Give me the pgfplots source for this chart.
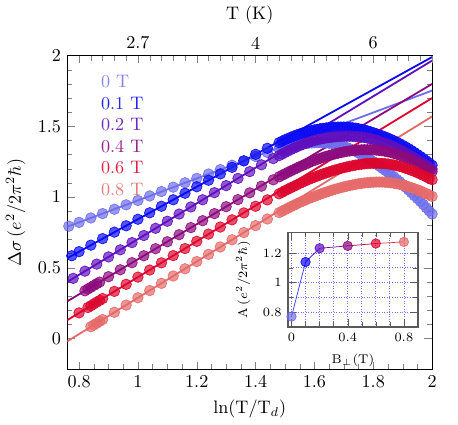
\documentclass[border=0pt]{standalone}
\usepackage{pgfplots}
\pgfplotsset{compat=1.18}
\definecolor{c0}{RGB}{110,110,235}
\definecolor{c1}{RGB}{10,10,245}
\definecolor{c2}{RGB}{95,15,190}
\definecolor{c4}{RGB}{140,10,125}
\definecolor{c6}{RGB}{220,5,45}
\definecolor{c8}{RGB}{230,105,105}
\pgfplotsset{
  bead/.style={only marks, mark=*, mark size=2.9pt,
    mark options={fill=#1, fill opacity=0.7, draw=#1, draw opacity=0.9, line width=0.4pt}},
  fit/.style={no marks, #1, line width=1pt},
}
\begin{document}
\begin{tikzpicture}
\begin{axis}[
name=main,
scale only axis,
width=201.3pt, height=173.25pt,
xmin=0.76, xmax=2, ymin=-0.22, ymax=2,
xtick={0.8,1,1.2,1.4,1.6,1.8,2},
ytick={0,0.5,1,1.5,2},
minor x tick num=3, minor y tick num=4,
xtick pos=bottom, ytick pos=both,
tick align=inside,
xlabel={ln(T/T$_d$)},
ylabel={$\Delta\sigma\,(e^2/2\pi^2\hbar)$},
]
% data, 0 T ... 0.8 T
\addplot[bead=c0] coordinates {(0.765,0.794) (0.80,0.821) (0.84,0.852) (0.88,0.883) (0.92,0.914) (0.96,0.945) (1.00,0.976) (1.04,1.008) (1.08,1.039) (1.12,1.070) (1.16,1.101) (1.20,1.132) (1.24,1.163) (1.28,1.194) (1.32,1.225) (1.36,1.256) (1.40,1.287) (1.44,1.316)
(1.48,1.342) (1.49,1.347) (1.50,1.352) (1.51,1.357) (1.52,1.361) (1.53,1.365) (1.54,1.369) (1.55,1.373) (1.56,1.376) (1.57,1.379) (1.58,1.381) (1.59,1.383) (1.60,1.384) (1.61,1.385) (1.62,1.385) (1.63,1.384) (1.64,1.383) (1.65,1.381) (1.66,1.378) (1.67,1.374) (1.68,1.369) (1.69,1.363) (1.70,1.357) (1.71,1.35) (1.72,1.342) (1.73,1.333) (1.74,1.323) (1.75,1.312) (1.76,1.301) (1.77,1.289) (1.78,1.277) (1.79,1.264) (1.80,1.25) (1.81,1.235) (1.82,1.22) (1.83,1.205) (1.84,1.19) (1.85,1.175) (1.86,1.16) (1.87,1.143) (1.88,1.125) (1.89,1.108) (1.90,1.09) (1.91,1.07) (1.92,1.05) (1.93,1.03) (1.94,1.01) (1.95,0.99) (1.96,0.97) (1.97,0.948) (1.98,0.925) (1.99,0.902) (2.00,0.88)};
\addplot[bead=c1] coordinates {(0.775,0.585) (0.80,0.614) (0.84,0.660) (0.88,0.706) (0.92,0.752) (0.96,0.797) (1.00,0.843) (1.04,0.889) (1.08,0.935) (1.12,0.981) (1.16,1.027) (1.20,1.073) (1.24,1.119) (1.28,1.164) (1.32,1.210) (1.36,1.256) (1.40,1.302) (1.44,1.345)
(1.48,1.385) (1.49,1.395) (1.50,1.405) (1.51,1.414) (1.52,1.423) (1.53,1.431) (1.54,1.439) (1.55,1.446) (1.56,1.453) (1.57,1.459) (1.58,1.465) (1.59,1.47) (1.60,1.475) (1.61,1.479) (1.62,1.483) (1.63,1.486) (1.64,1.489) (1.65,1.491) (1.66,1.493) (1.67,1.494) (1.68,1.495) (1.69,1.495) (1.70,1.495) (1.71,1.494) (1.72,1.492) (1.73,1.49) (1.74,1.487) (1.75,1.483) (1.76,1.479) (1.77,1.474) (1.78,1.468) (1.79,1.462) (1.80,1.455) (1.81,1.448) (1.82,1.44) (1.83,1.433) (1.84,1.425) (1.85,1.417) (1.86,1.408) (1.87,1.398) (1.88,1.388) (1.89,1.377) (1.90,1.366) (1.91,1.354) (1.92,1.342) (1.93,1.329) (1.94,1.315) (1.95,1.301) (1.96,1.287) (1.97,1.272) (1.98,1.257) (1.99,1.241) (2.00,1.225)};
\addplot[bead=c2] coordinates {(0.78,0.425) (0.82,0.476) (0.86,0.526) (0.90,0.577) (0.94,0.627) (0.98,0.678) (1.02,0.728) (1.06,0.779) (1.10,0.829) (1.14,0.880) (1.18,0.930) (1.22,0.981) (1.26,1.031) (1.30,1.081) (1.34,1.132) (1.38,1.180) (1.42,1.228) (1.46,1.272)
(1.48,1.293) (1.49,1.304) (1.50,1.315) (1.51,1.326) (1.52,1.336) (1.53,1.346) (1.54,1.355) (1.55,1.364) (1.56,1.372) (1.57,1.38) (1.58,1.387) (1.59,1.394) (1.60,1.40) (1.61,1.405) (1.62,1.41) (1.63,1.414) (1.64,1.418) (1.65,1.421) (1.66,1.424) (1.67,1.426) (1.68,1.428) (1.69,1.429) (1.70,1.43) (1.71,1.43) (1.72,1.43) (1.73,1.429) (1.74,1.428) (1.75,1.426) (1.76,1.424) (1.77,1.421) (1.78,1.417) (1.79,1.412) (1.80,1.407) (1.81,1.401) (1.82,1.395) (1.83,1.388) (1.84,1.38) (1.85,1.372) (1.86,1.363) (1.87,1.354) (1.88,1.344) (1.89,1.334) (1.90,1.323) (1.91,1.312) (1.92,1.30) (1.93,1.288) (1.94,1.276) (1.95,1.263) (1.96,1.25) (1.97,1.237) (1.98,1.224) (1.99,1.211) (2.00,1.198)};
\addplot[bead=c4] coordinates {(0.82,0.337) (0.83,0.350) (0.84,0.362) (0.85,0.375) (0.86,0.387) (0.87,0.399) (0.90,0.437) (0.94,0.486) (0.98,0.536) (1.02,0.585) (1.06,0.635) (1.10,0.684) (1.14,0.734) (1.18,0.784) (1.22,0.833) (1.26,0.883) (1.30,0.932) (1.34,0.982) (1.38,1.030) (1.42,1.077) (1.46,1.122)
(1.48,1.143) (1.49,1.154) (1.50,1.164) (1.51,1.175) (1.52,1.185) (1.53,1.195) (1.54,1.205) (1.55,1.215) (1.56,1.224) (1.57,1.233) (1.58,1.242) (1.59,1.251) (1.60,1.259) (1.61,1.267) (1.62,1.274) (1.63,1.281) (1.64,1.288) (1.65,1.294) (1.66,1.30) (1.67,1.305) (1.68,1.31) (1.69,1.315) (1.70,1.319) (1.71,1.323) (1.72,1.326) (1.73,1.329) (1.74,1.331) (1.75,1.333) (1.76,1.334) (1.77,1.335) (1.78,1.335) (1.79,1.335) (1.80,1.334) (1.81,1.332) (1.82,1.33) (1.83,1.327) (1.84,1.324) (1.85,1.32) (1.86,1.315) (1.87,1.309) (1.88,1.303) (1.89,1.296) (1.90,1.288) (1.91,1.279) (1.92,1.27) (1.93,1.26) (1.94,1.25) (1.95,1.239) (1.96,1.228) (1.97,1.217) (1.98,1.205) (1.99,1.193) (2.00,1.18)};
\addplot[bead=c6] coordinates {(0.80,0.181) (0.83,0.219) (0.84,0.231) (0.85,0.244) (0.86,0.257) (0.87,0.269) (0.88,0.282) (0.92,0.333) (0.96,0.383) (1.00,0.434) (1.04,0.484) (1.08,0.535) (1.12,0.586) (1.16,0.636) (1.20,0.687) (1.24,0.738) (1.28,0.788) (1.32,0.839) (1.36,0.888) (1.40,0.935) (1.44,0.98)
(1.48,1.023) (1.49,1.034) (1.50,1.045) (1.51,1.056) (1.52,1.066) (1.53,1.076) (1.54,1.086) (1.55,1.096) (1.56,1.106) (1.57,1.115) (1.58,1.124) (1.59,1.133) (1.60,1.141) (1.61,1.149) (1.62,1.157) (1.63,1.164) (1.64,1.171) (1.65,1.178) (1.66,1.185) (1.67,1.191) (1.68,1.197) (1.69,1.203) (1.70,1.208) (1.71,1.213) (1.72,1.218) (1.73,1.222) (1.74,1.226) (1.75,1.229) (1.76,1.232) (1.77,1.235) (1.78,1.237) (1.79,1.238) (1.80,1.239) (1.81,1.239) (1.82,1.239) (1.83,1.238) (1.84,1.236) (1.85,1.234) (1.86,1.231) (1.87,1.227) (1.88,1.222) (1.89,1.217) (1.90,1.211) (1.91,1.204) (1.92,1.197) (1.93,1.189) (1.94,1.181) (1.95,1.172) (1.96,1.163) (1.97,1.153) (1.98,1.143) (1.99,1.133) (2.00,1.123)};
\addplot[bead=c8] coordinates {(0.84,0.083) (0.85,0.095) (0.86,0.108) (0.87,0.121) (0.88,0.134) (0.92,0.185) (0.96,0.236) (1.00,0.288) (1.04,0.339) (1.08,0.39) (1.12,0.442) (1.16,0.493) (1.20,0.544) (1.24,0.595) (1.28,0.647) (1.32,0.698) (1.36,0.749) (1.40,0.798) (1.44,0.845)
(1.48,0.89) (1.49,0.90) (1.50,0.911) (1.51,0.922) (1.52,0.932) (1.53,0.942) (1.54,0.952) (1.55,0.962) (1.56,0.971) (1.57,0.98) (1.58,0.989) (1.59,0.997) (1.60,1.005) (1.61,1.013) (1.62,1.021) (1.63,1.028) (1.64,1.035) (1.65,1.042) (1.66,1.049) (1.67,1.055) (1.68,1.061) (1.69,1.067) (1.70,1.072) (1.71,1.077) (1.72,1.082) (1.73,1.086) (1.74,1.09) (1.75,1.094) (1.76,1.097) (1.77,1.1) (1.78,1.102) (1.79,1.104) (1.80,1.105) (1.81,1.106) (1.82,1.106) (1.83,1.106) (1.84,1.105) (1.85,1.103) (1.86,1.101) (1.87,1.098) (1.88,1.094) (1.89,1.09) (1.90,1.085) (1.91,1.079) (1.92,1.073) (1.93,1.066) (1.94,1.059) (1.95,1.051) (1.96,1.043) (1.97,1.034) (1.98,1.025) (1.99,1.015) (2.00,1.005)};
% linear fits
\addplot[fit=c0] coordinates {(0.76,0.79) (2,1.753)};
\addplot[fit=c1] coordinates {(0.76,0.568) (2,1.99)};
\addplot[fit=c2] coordinates {(0.76,0.40) (2,1.965)};
\addplot[fit=c4] coordinates {(0.76,0.263) (2,1.80)};
\addplot[fit=c6] coordinates {(0.76,0.13) (2,1.70)};
\addplot[fit=c8] coordinates {(0.76,-0.02) (2,1.57)};
% field labels
\node[anchor=west, text=c0!85] at (rel axis cs:0.075,0.916) {0 T};
\node[anchor=west, text=c1!90] at (rel axis cs:0.075,0.847) {0.1 T};
\node[anchor=west, text=c2!90] at (rel axis cs:0.075,0.779) {0.2 T};
\node[anchor=west, text=c4!90] at (rel axis cs:0.075,0.710) {0.4 T};
\node[anchor=west, text=c6!90] at (rel axis cs:0.075,0.642) {0.6 T};
\node[anchor=west, text=c8!90] at (rel axis cs:0.075,0.573) {0.8 T};
\coordinate (ins) at (rel axis cs:0.605,0.1356);
\end{axis}
% top temperature axis
\begin{axis}[
scale only axis,
width=201.3pt, height=173.25pt,
at={(main.south west)}, anchor=south west,
xmin=0.76, xmax=2, ymin=0, ymax=1,
hide y axis,
xtick={0.8,1,1.2,1.4,1.6,1.8,2},
xticklabels={,2.7,,4,,6,},
minor x tick num=4,
xtick pos=top, xticklabel pos=top,
tick align=inside,
xlabel near ticks,
xlabel={T (K)},
]
\end{axis}
% inset
\begin{axis}[
at={(ins)}, anchor=south west,
scale only axis,
width=71.7pt, height=52.3pt,
xmin=-0.025, xmax=0.9, ymin=0.7, ymax=1.34,
xtick={0,0.4,0.8}, ytick={0.8,1,1.2},
minor x tick num=3, minor y tick num=1,
tick align=inside,
grid=both,
grid style={densely dotted, blue!55},
minor grid style={densely dotted, blue!55},
axis line style={gray!70!black, line width=0.8pt},
tick style={gray!70!black},
axis background/.style={fill=white},
tick label style={font=\scriptsize},
label style={font=\scriptsize},
xlabel={B$_\perp$(T)},
ylabel={A\,($e^2/2\pi^2\hbar$)},
]
\addplot[c0!50!c1, thin] coordinates {(0,0.771) (0.1,1.139)};
\addplot[c1!50!c2, thin] coordinates {(0.1,1.139) (0.2,1.232)};
\addplot[c2!50!c4, thin] coordinates {(0.2,1.232) (0.4,1.248)};
\addplot[c4!50!c6, thin] coordinates {(0.4,1.248) (0.6,1.264)};
\addplot[c6!50!c8, thin] coordinates {(0.6,1.264) (0.8,1.275)};
\addplot[bead=c0, mark size=2.6pt] coordinates {(0,0.771)};
\addplot[bead=c1, mark size=2.6pt] coordinates {(0.1,1.139)};
\addplot[bead=c2, mark size=2.6pt] coordinates {(0.2,1.232)};
\addplot[bead=c4, mark size=2.6pt] coordinates {(0.4,1.248)};
\addplot[bead=c6, mark size=2.6pt] coordinates {(0.6,1.264)};
\addplot[bead=c8, mark size=2.6pt] coordinates {(0.8,1.275)};
\end{axis}
\path (main.south west) ++(-36.3pt,-26pt);
\path (main.north east) ++(14.3pt,28.4pt);
\end{tikzpicture}
\end{document}
